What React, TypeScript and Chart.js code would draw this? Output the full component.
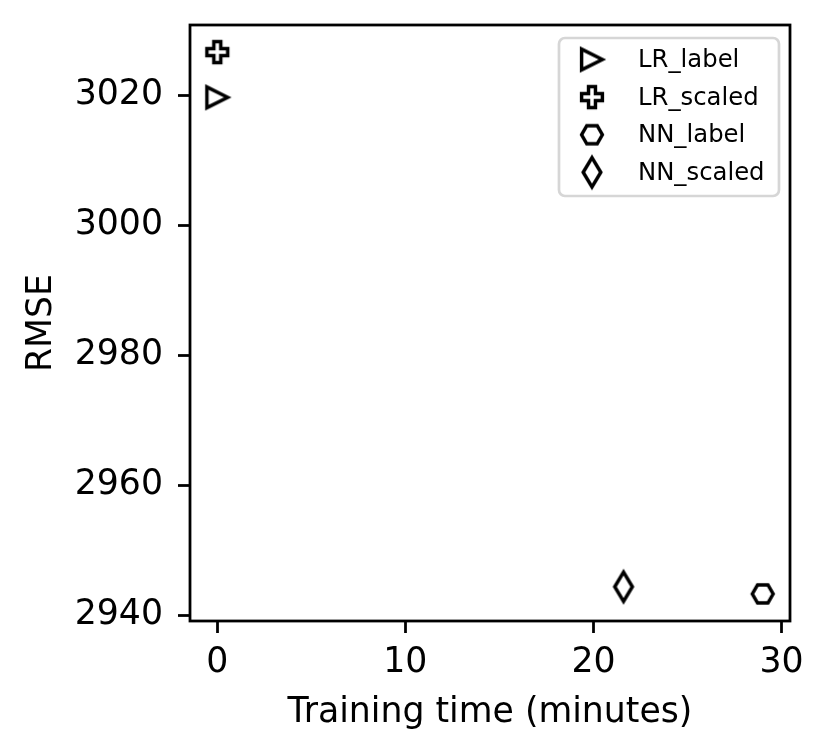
import React, { useEffect, useRef } from "react";
import { Chart, registerables } from "chart.js";

Chart.register(...registerables);

// ---- data ----
const seriesNames = ["LR_label", "LR_scaled", "NN_label", "NN_scaled"];
const markerKinds = ["triangleRight", "plusFilled", "hexagon", "thinDiamond"];
const trainingTimes = [0, 0, 29.0, 21.6];
const rmseValues = [3019.65, 3026.6, 2943.3, 2944.4];
const xTicks = [0, 10, 20, 30];
const yTicks = [2940, 2960, 2980, 3000, 3020];
const xTitle = "Training time (minutes)";
const yTitle = "RMSE";

const FONT = "'DejaVu Sans', sans-serif";
const FS = 34.7;
const MS = 20.8; // marker size px
const MEW = 3.47; // marker edge width px

function makeMarker(kind: string): HTMLCanvasElement {
  const c = document.createElement("canvas");
  c.width = 44;
  c.height = 44;
  const ctx = c.getContext("2d")!;
  ctx.translate(22, 22);
  const h = MS / 2;
  ctx.beginPath();
  if (kind === "triangleRight") {
    ctx.moveTo(h, 0);
    ctx.lineTo(-h, -h);
    ctx.lineTo(-h, h);
    ctx.closePath();
  } else if (kind === "plusFilled") {
    const u = MS / 6;
    const v: [number, number][] = [
      [-1, -3], [1, -3], [1, -1], [3, -1], [3, 1], [1, 1],
      [1, 3], [-1, 3], [-1, 1], [-3, 1], [-3, -1], [-1, -1],
    ];
    v.forEach(([a, b], i) => (i === 0 ? ctx.moveTo(a * u, b * u) : ctx.lineTo(a * u, b * u)));
    ctx.closePath();
  } else if (kind === "hexagon") {
    for (let i = 0; i < 6; i++) {
      const ang = (Math.PI / 3) * i;
      const px = h * Math.cos(ang);
      const py = h * Math.sin(ang);
      i === 0 ? ctx.moveTo(px, py) : ctx.lineTo(px, py);
    }
    ctx.closePath();
  } else {
    const d = MS * Math.SQRT1_2;
    ctx.moveTo(0, -d);
    ctx.lineTo(0.6 * d, 0);
    ctx.lineTo(0, d);
    ctx.lineTo(-0.6 * d, 0);
    ctx.closePath();
  }
  ctx.fillStyle = "#ffffff";
  ctx.fill();
  ctx.lineWidth = MEW;
  ctx.lineJoin = "miter";
  ctx.strokeStyle = "#000000";
  ctx.stroke();
  return c;
}

export default function App() {
  const ref = useRef<HTMLCanvasElement>(null);

  useEffect(() => {
    if (!ref.current) return;
    const markers = markerKinds.map(makeMarker);

    const framePlugin = {
      id: "framePlugin",
      afterDatasetsDraw(chart: any) {
        const { ctx, chartArea } = chart;
        ctx.save();
        ctx.lineWidth = 2.78;
        ctx.strokeStyle = "#000";
        ctx.strokeRect(chartArea.left, chartArea.top, chartArea.right - chartArea.left, chartArea.bottom - chartArea.top);
        ctx.restore();
      },
      afterDraw(chart: any) {
        const { ctx, chartArea } = chart;
        const bx1 = chartArea.right - 11;
        const by0 = chartArea.top + 13;
        const bx0 = bx1 - 220;
        const by1 = by0 + 158;
        ctx.save();
        ctx.beginPath();
        const r = 6;
        ctx.moveTo(bx0 + r, by0);
        ctx.lineTo(bx1 - r, by0);
        ctx.arcTo(bx1, by0, bx1, by0 + r, r);
        ctx.lineTo(bx1, by1 - r);
        ctx.arcTo(bx1, by1, bx1 - r, by1, r);
        ctx.lineTo(bx0 + r, by1);
        ctx.arcTo(bx0, by1, bx0, by1 - r, r);
        ctx.lineTo(bx0, by0 + r);
        ctx.arcTo(bx0, by0, bx0 + r, by0, r);
        ctx.closePath();
        ctx.fillStyle = "rgba(255,255,255,0.8)";
        ctx.fill();
        ctx.lineWidth = 2.7;
        ctx.strokeStyle = "rgba(204,204,204,0.8)";
        ctx.stroke();
        ctx.font = `24.3px ${FONT}`;
        ctx.fillStyle = "#000";
        ctx.textAlign = "left";
        ctx.textBaseline = "alphabetic";
        seriesNames.forEach((name, i) => {
          const cy = by0 + 21.5 + i * 37.6;
          const m = markers[i];
          ctx.drawImage(m, bx0 + 33 - m.width / 2, cy - m.height / 2);
          ctx.fillText(name, bx0 + 79, cy + 7.5);
        });
        ctx.restore();
      },
    };

    const chart = new Chart(ref.current, {
      type: "scatter",
      data: {
        datasets: seriesNames.map((name, i) => ({
          label: name,
          data: [{ x: trainingTimes[i], y: rmseValues[i] }],
          pointStyle: markers[i] as any,
          pointRadius: 12,
          borderWidth: 0,
          backgroundColor: "#fff",
          borderColor: "#000",
        })),
      },
      options: {
        responsive: false,
        animation: false,
        layout: { padding: { top: 25, right: 40, left: 0, bottom: 0 } },
        plugins: { legend: { display: false }, tooltip: { enabled: false } },
        scales: {
          x: {
            type: "linear",
            position: "bottom",
            min: -1.45,
            max: 30.45,
            afterBuildTicks: (s: any) => {
              s.ticks = xTicks.map((v) => ({ value: v }));
            },
            afterFit: (s: any) => {
              s.height = 135;
              s.paddingLeft = 0;
              s.paddingRight = 0;
            },
            ticks: {
              font: { size: FS, family: FONT },
              color: "#000",
              padding: 9.5,
              maxRotation: 0,
              autoSkip: false,
              callback: (v: any) => String(v),
            },
            grid: {
              display: true,
              drawOnChartArea: false,
              drawTicks: true,
              tickLength: 12,
              tickWidth: 2.78,
              tickColor: "#000",
            },
            border: { display: false },
            title: {
              display: true,
              text: xTitle,
              color: "#000",
              font: { size: FS, family: FONT },
              padding: { top: 0, bottom: 22 },
            },
          },
          y: {
            type: "linear",
            position: "left",
            min: 2939.13,
            max: 3030.77,
            afterBuildTicks: (s: any) => {
              s.ticks = yTicks.map((v) => ({ value: v }));
            },
            afterFit: (s: any) => {
              s.width = 190;
              s.paddingTop = 0;
              s.paddingBottom = 0;
            },
            ticks: {
              font: { size: FS, family: FONT },
              color: "#000",
              padding: 15,
              autoSkip: false,
              callback: (v: any) => String(v),
            },
            grid: {
              display: true,
              drawOnChartArea: false,
              drawTicks: true,
              tickLength: 12,
              tickWidth: 2.78,
              tickColor: "#000",
            },
            border: { display: false },
            title: {
              display: true,
              text: yTitle,
              color: "#000",
              font: { size: FS, family: FONT },
              padding: { top: 21.5, bottom: 0 },
            },
          },
        },
      },
      plugins: [framePlugin],
    });
    return () => chart.destroy();
  }, []);

  return (
    <div style={{ position: "absolute", left: 0, top: 0, width: 830, height: 756, background: "#fff" }}>
      <canvas ref={ref} width={830} height={756} style={{ display: "block", width: 830, height: 756 }} />
    </div>
  );
}
